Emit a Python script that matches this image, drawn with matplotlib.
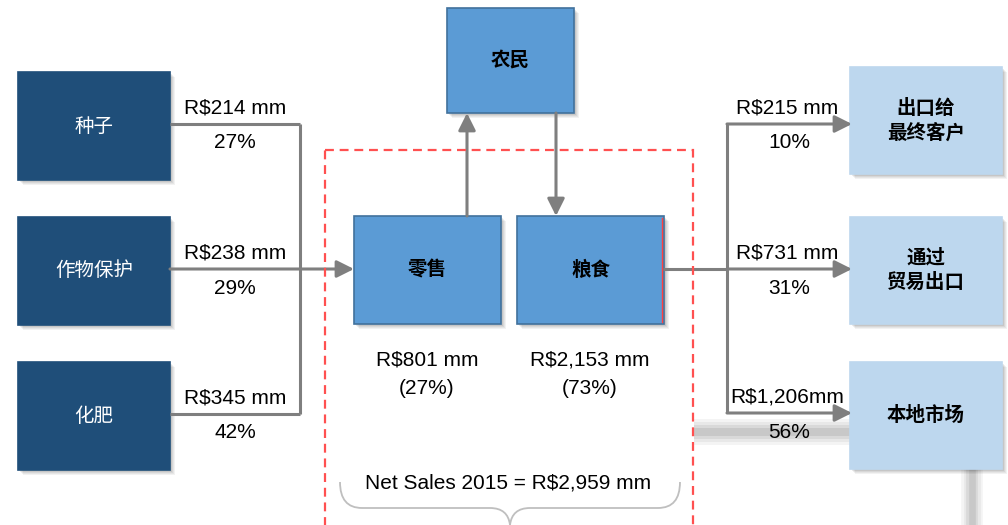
import numpy as np
import matplotlib.pyplot as plt
from matplotlib.patches import Rectangle, PathPatch
from matplotlib.path import Path

plt.rcParams['font.family'] = ['Liberation Sans', 'Noto Sans CJK SC', 'DejaVu Sans']
CJK = ['Noto Sans CJK SC', 'DejaVu Sans']

# inputs bought by the retail arm
input_names = ['种子', '作物保护', '化肥']
input_values = ['R$214 mm', 'R$238 mm', 'R$345 mm']
input_shares = ['27%', '29%', '42%']

# business segments
segment_names = ['零售', '粮食']
segment_values = ['R$801 mm', 'R$2,153 mm']
segment_shares = ['(27%)', '(73%)']
farmer_name = '农民'
net_sales = 'Net Sales 2015 = R$2,959 mm'

# grain destinations
output_names = ['出口给\n最终客户', '通过\n贸易出口', '本地市场']
output_values = ['R$215 mm', 'R$731 mm', 'R$1,206mm']
output_shares = ['10%', '31%', '56%']

NAVY = '#1F4E79'
MID = '#5B9BD5'
EDGE = '#41719C'
LIGHT = '#BDD7EE'
GREY = '#7F7F7F'

fig = plt.figure(figsize=(10.08, 5.25), dpi=100)
ax = fig.add_axes([0, 0, 1, 1])
ax.set_xlim(0, 1008)
ax.set_ylim(525, 0)
ax.axis('off')


def box(x, y, w, h, fc, ec=None, text='', tc='black', size=14, weight='normal'):
    # soft drop shadow
    for k, a in enumerate([0.05, 0.05, 0.06, 0.08]):
        off = 5 - k
        ax.add_patch(Rectangle((x + off, y + off), w, h, fc='black', ec='none',
                               alpha=a, zorder=2))
    ax.add_patch(Rectangle((x, y), w, h, fc=fc, ec=ec or fc, lw=1.2, zorder=3))
    if text:
        ax.text(x + w / 2, y + h / 2, text, ha='center', va='center', color=tc,
                fontsize=size, family=CJK, weight=weight, linespacing=1.35,
                zorder=6)


def arrow(x0, y0, x1, y1):
    ax.annotate('', xy=(x1, y1), xytext=(x0, y0),
                arrowprops=dict(arrowstyle='-|>', color=GREY, lw=2.2,
                                mutation_scale=26, shrinkA=0, shrinkB=0),
                zorder=4)


def line(xs, ys):
    ax.plot(xs, ys, color=GREY, lw=2.2, solid_capstyle='butt', zorder=4)


# blurred grey bands
for w, a in [(26, 0.07), (20, 0.09), (14, 0.12), (8, 0.16)]:
    ax.plot([694, 852], [432, 432], color='#707070', lw=w * 0.72, alpha=a,
            solid_capstyle='butt', zorder=1)
    ax.plot([972, 972], [466, 525], color='#707070', lw=w * 0.6, alpha=a,
            solid_capstyle='butt', zorder=1)

# left side: inputs
in_y = [72, 217, 362]
rows = []
for i, name in enumerate(input_names):
    box(18, in_y[i], 152, 108, NAVY, text=name, tc='white', size=14)
    yc = in_y[i] + 52
    rows.append(yc)
    ax.text(235, yc - 16, input_values[i], ha='center', va='center', fontsize=15, zorder=6)
    ax.text(235, yc + 19, input_shares[i], ha='center', va='center', fontsize=15, zorder=6)

line([170, 300], [rows[0], rows[0]])
line([170, 300], [rows[2], rows[2]])
line([300, 300], [rows[0], rows[2]])
arrow(170, rows[1], 354, rows[1])

# red dashed perimeter
ax.add_patch(Rectangle((325, 150), 368, 420, fc='none', ec='#FF5050', lw=1.6,
                       ls=(0, (4, 2.6)), zorder=5))

# farmer and segments
box(447, 8, 127, 105, MID, EDGE, farmer_name, size=14, weight='bold')
seg_x = [354, 517]
for i, name in enumerate(segment_names):
    box(seg_x[i], 216, 147, 108, MID, EDGE, name, size=14, weight='bold')
    xc = seg_x[i] + 73
    ax.text(xc, 360, segment_values[i], ha='center', va='center', fontsize=15, zorder=6)
    ax.text(xc, 388, segment_shares[i], ha='center', va='center', fontsize=15, zorder=6)
ax.plot([662, 662], [218, 322], color='#FF4040', lw=1.0, zorder=5)

arrow(467, 216, 467, 113)
arrow(556, 113, 556, 216)

# right side: destinations
out_y = [67, 217, 362]
out_rows = [124, 269, 413]
for i, name in enumerate(output_names):
    box(850, out_y[i], 152, 107, LIGHT, text=name, size=14, weight='bold')
    ax.text(787, out_rows[i] - 16, output_values[i], ha='center', va='center', fontsize=15, zorder=6)
    ax.text(789, out_rows[i] + 19, output_shares[i], ha='center', va='center', fontsize=15, zorder=6)
    arrow(727, out_rows[i], 852, out_rows[i])
line([663, 727], [269, 269])
line([727, 727], [out_rows[0], out_rows[2]])

# brace under the segments
verts = [(340, 482), (340, 508), (362, 508), (490, 508),
         (508, 508), (510, 525), (510, 526),
         (510, 525), (512, 508), (530, 508),
         (658, 508), (680, 508), (680, 482)]
codes = [Path.MOVETO, Path.CURVE3, Path.CURVE3, Path.LINETO,
         Path.CURVE3, Path.CURVE3, Path.LINETO,
         Path.MOVETO, Path.CURVE3, Path.CURVE3,
         Path.LINETO, Path.CURVE3, Path.CURVE3]
ax.add_patch(PathPatch(Path(verts, codes), fc='none', ec='#BFBFBF', lw=1.3, zorder=4))
ax.text(508, 483, net_sales, ha='center', va='center', fontsize=15, zorder=6)

fig.savefig('out.png', dpi=100)
